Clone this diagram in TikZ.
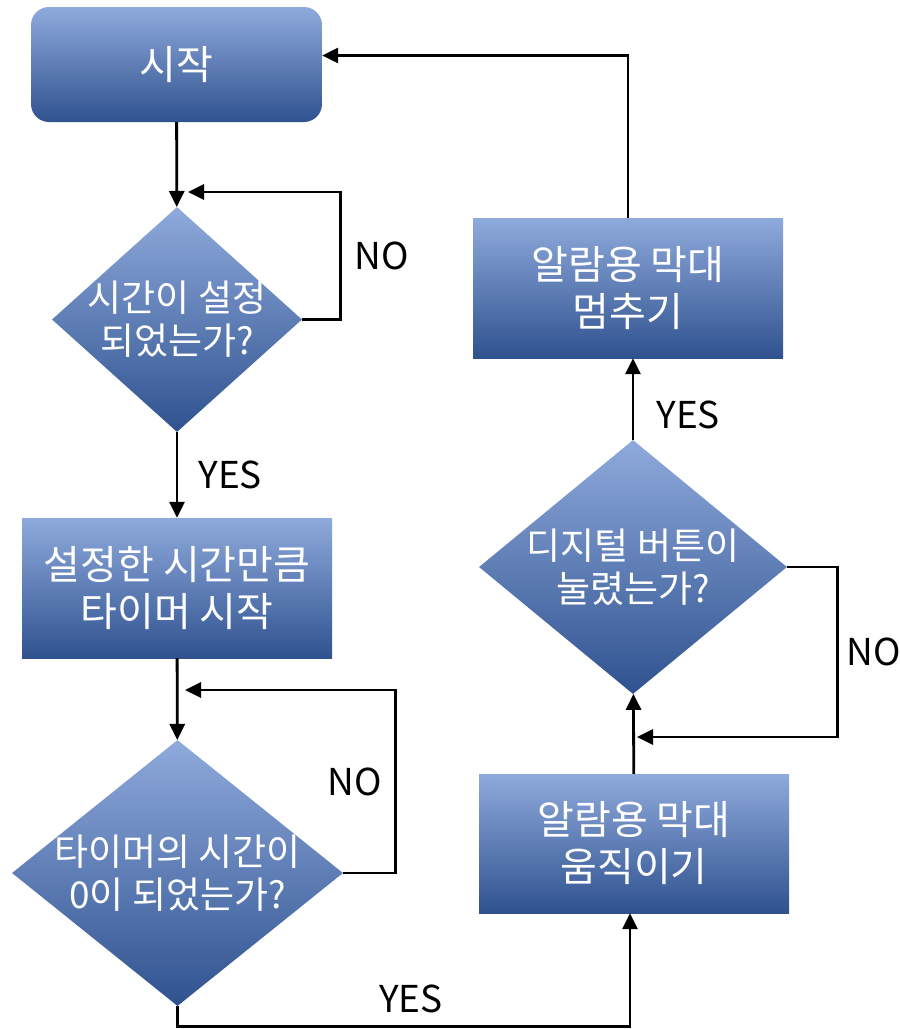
\documentclass[tikz,border=0pt]{standalone}
\usepackage{fontspec}
\setmainfont{Noto Sans CJK KR}
\usepackage{xcolor}
\usepackage{tikz}
\usetikzlibrary{shapes.geometric,arrows.meta,positioning}

\definecolor{fillTop}{RGB}{143,170,220}
\definecolor{fillMid}{RGB}{68,114,196}
\definecolor{fillBot}{RGB}{47,82,143}

\begin{document}
\begin{tikzpicture}[
        x=1pt, y=-1pt,
        grad/.style={top color=fillTop, middle color=fillMid, bottom color=fillBot},
        block/.style={rectangle, grad, minimum width=310pt, minimum height=140pt, inner sep=0pt, align=center, text=white, font=\fontsize{40}{47}\selectfont},
        startbox/.style={block, rounded corners=18pt, minimum width=291pt, minimum height=115pt},
        decision/.style={diamond, grad, inner sep=0pt},
        dtext/.style={text=white, align=center, inner sep=0pt, font=\fontsize{37}{43}\selectfont},
        answer/.style={inner sep=0pt, font=\fontsize{37}{40}\selectfont},
        arrow/.style={-{Triangle[length=16pt,width=15pt]}, line width=2.8pt}
    ]
        \useasboundingbox (0,0) rectangle (900,1029);

        % Blocks
        \node[startbox] (start) at (176.5,64.5) {시작};
        \node[decision, minimum width=250pt, minimum height=225pt,
              label={[dtext]center:{시간이 설정\\되었는가?}}] (ask1) at (177,319.5) {};
        \node[block] (timer) at (177,588) {설정한 시간만큼\\타이머 시작};
        \node[decision, minimum width=331pt, minimum height=266pt,
              label={[dtext]center:{타이머의 시간이\\0이 되었는가?}}] (ask2) at (177.5,873) {};
        \node[block, minimum height=139pt] (move) at (634,843.5) {알람용 막대\\움직이기};
        \node[decision, minimum width=308pt, minimum height=254pt,
              label={[dtext]center:{디지털 버튼이\\눌렸는가?}}] (ask3) at (633,567) {};
        \node[block] (stop) at (628,288) {알람용 막대\\멈추기};

        % loop ends
        \coordinate (back1) at (188,192);
        \coordinate (back2) at (185,690);
        \coordinate (back3) at (637,737);

        % Arrows
        \draw[arrow] (start) -- (ask1);
        \draw[arrow] (ask1.east) -- ++(38,0) |- node[answer, pos=0.25, right=13pt] {NO} (back1);
        \draw[arrow] (ask1) -- node[answer, right=20pt] {YES} (timer);
        \draw[arrow] (timer) -- (ask2);
        \draw[arrow] (ask2.east) -- ++(52,0) |- node[answer, pos=0.25, left=12pt] {NO} (back2);
        \draw[arrow] (ask2.south) -- ++(0,20) -| node[answer, pos=0.25, above=12pt, xshift=7pt] {YES} ([xshift=-4pt]move.south);
        \draw[arrow] (move) -- (ask3);
        \draw[arrow] (ask3.east) -- ++(50,0) |- node[answer, pos=0.25, right=8pt] {NO} (back3);
        \draw[arrow] (ask3.north) -- node[answer, pos=0.3, right=22pt] {YES} (ask3.north |- stop.south);
        \draw[arrow] (stop.north) |- ([yshift=9pt]start.east);

    \end{tikzpicture}
\end{document}
